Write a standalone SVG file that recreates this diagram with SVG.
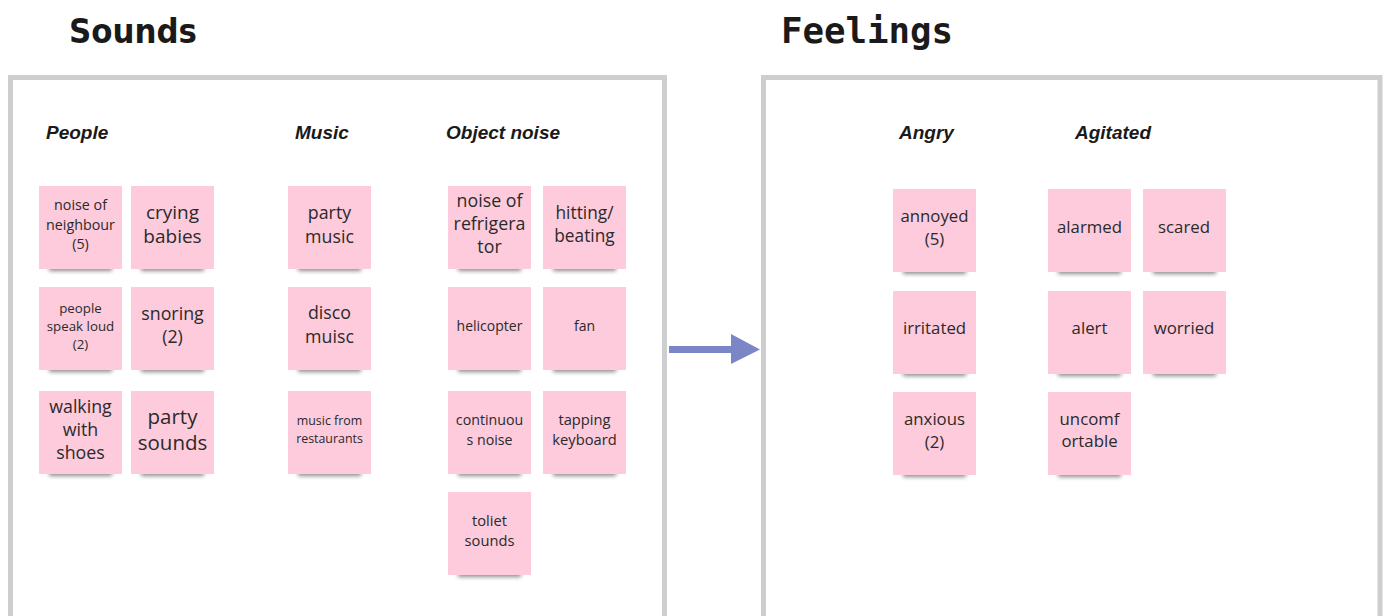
<svg xmlns="http://www.w3.org/2000/svg" width="1385" height="616" viewBox="0 0 1385 616">
<style>
.frame{fill:#fff;stroke:#cecece;stroke-width:5}
.sub{font-family:"Liberation Sans",Arial,sans-serif;font-weight:bold;font-style:italic;font-size:19px;fill:#1a1a1a}
.note{fill:#fdcbdc}
.shadow{fill:#000;opacity:0.45;filter:url(#blur)}
.nt{font-family:"Open Sans","Noto Sans",sans-serif;fill:#2a2a2a;text-anchor:middle}
</style>
<defs>
<filter id="blur" x="-20%" y="-100%" width="140%" height="300%"><feGaussianBlur stdDeviation="2"/></filter>
<symbol id="sticky" overflow="visible">
<rect class="shadow" x="10" y="78" width="63" height="7"/>
<rect class="note" x="0" y="0" width="83" height="83"/>
</symbol>
</defs>
<rect width="1385" height="616" fill="#fff"/>
<g id="frame-sounds">
<rect class="frame" x="10.5" y="77.5" width="654" height="560"/>
<text x="69" y="43" font-family="'DejaVu Sans', 'Liberation Sans', sans-serif" font-weight="bold" font-size="33" fill="#1a1a1a" textLength="128" lengthAdjust="spacingAndGlyphs">Sounds</text>
</g>
<g id="frame-feelings">
<rect class="frame" x="763.5" y="77.5" width="616.5" height="560"/>
<text x="781" y="43" font-family="'DejaVu Sans Mono', 'Liberation Mono', monospace" font-weight="bold" font-size="35" fill="#1a1a1a" textLength="172" lengthAdjust="spacingAndGlyphs">Feelings</text>
</g>
<g id="headings">
<text class="sub" x="46" y="139">People</text>
<text class="sub" x="295" y="139">Music</text>
<text class="sub" x="446" y="139">Object noise</text>
<text class="sub" x="899" y="139">Angry</text>
<text class="sub" x="1075" y="139">Agitated</text>
</g>
<g id="connectors">
<rect x="669" y="346" width="63" height="7" fill="#7a86c5"/>
<polygon points="731,334 760,349.5 731,364" fill="#7a86c5"/>
</g>
<g id="n1"><use href="#sticky" x="39" y="186"/><text class="nt" font-size="14.3"><tspan x="80.5" y="210">noise of</tspan><tspan x="80.5" y="230">neighbour</tspan><tspan x="80.5" y="249">(5)</tspan></text></g>
<g id="n2"><use href="#sticky" x="131" y="186"/><text class="nt" font-size="19"><tspan x="172.5" y="219">crying</tspan><tspan x="172.5" y="243">babies</tspan></text></g>
<g id="n3"><use href="#sticky" x="39" y="287"/><text class="nt" font-size="13.3"><tspan x="80.5" y="312.5">people</tspan><tspan x="80.5" y="330.5">speak loud</tspan><tspan x="80.5" y="348.5">(2)</tspan></text></g>
<g id="n4"><use href="#sticky" x="131" y="287"/><text class="nt" font-size="17.8"><tspan x="172.5" y="320">snoring</tspan><tspan x="172.5" y="343">(2)</tspan></text></g>
<g id="n5"><use href="#sticky" x="39" y="391"/><text class="nt" font-size="17.8"><tspan x="80.5" y="413">walking</tspan><tspan x="80.5" y="436">with</tspan><tspan x="80.5" y="459">shoes</tspan></text></g>
<g id="n6"><use href="#sticky" x="131" y="391"/><text class="nt" font-size="20.5"><tspan x="172.5" y="424">party</tspan><tspan x="172.5" y="450">sounds</tspan></text></g>
<g id="m1"><use href="#sticky" x="288" y="186"/><text class="nt" font-size="17.8"><tspan x="329.5" y="219">party</tspan><tspan x="329.5" y="243">music</tspan></text></g>
<g id="m2"><use href="#sticky" x="288" y="287"/><text class="nt" font-size="17.8"><tspan x="329.5" y="319">disco</tspan><tspan x="329.5" y="343">muisc</tspan></text></g>
<g id="m3"><use href="#sticky" x="288" y="391"/><text class="nt" font-size="12.4"><tspan x="329.5" y="425">music from</tspan><tspan x="329.5" y="443">restaurants</tspan></text></g>
<g id="o1"><use href="#sticky" x="448" y="186"/><text class="nt" font-size="17.8"><tspan x="489.5" y="207">noise of</tspan><tspan x="489.5" y="230">refrigera</tspan><tspan x="489.5" y="253">tor</tspan></text></g>
<g id="o2"><use href="#sticky" x="543" y="186"/><text class="nt" font-size="17.3"><tspan x="584.5" y="219">hitting/</tspan><tspan x="584.5" y="242">beating</tspan></text></g>
<g id="o3"><use href="#sticky" x="448" y="287"/><text class="nt" font-size="14" x="489.5" y="331">helicopter</text></g>
<g id="o4"><use href="#sticky" x="543" y="287"/><text class="nt" font-size="14" x="584.5" y="331">fan</text></g>
<g id="o5"><use href="#sticky" x="448" y="391"/><text class="nt" font-size="14.2"><tspan x="489.5" y="425">continuou</tspan><tspan x="489.5" y="445">s noise</tspan></text></g>
<g id="o6"><use href="#sticky" x="543" y="391"/><text class="nt" font-size="14.7"><tspan x="584.5" y="425">tapping</tspan><tspan x="584.5" y="445">keyboard</tspan></text></g>
<g id="o7"><use href="#sticky" x="448" y="492"/><text class="nt" font-size="14.7"><tspan x="489.5" y="526">toliet</tspan><tspan x="489.5" y="546">sounds</tspan></text></g>
<g id="a1"><use href="#sticky" x="893" y="189"/><text class="nt" font-size="16.8"><tspan x="934.5" y="222">annoyed</tspan><tspan x="934.5" y="245">(5)</tspan></text></g>
<g id="a2"><use href="#sticky" x="893" y="291"/><text class="nt" font-size="16.8" x="934.5" y="334">irritated</text></g>
<g id="a3"><use href="#sticky" x="893" y="392"/><text class="nt" font-size="16.8"><tspan x="934.5" y="425">anxious</tspan><tspan x="934.5" y="448">(2)</tspan></text></g>
<g id="g1"><use href="#sticky" x="1048" y="189"/><text class="nt" font-size="16.8" x="1089.5" y="233">alarmed</text></g>
<g id="g2"><use href="#sticky" x="1143" y="189"/><text class="nt" font-size="16.8" x="1184" y="233">scared</text></g>
<g id="g3"><use href="#sticky" x="1048" y="291"/><text class="nt" font-size="16.8" x="1089.5" y="334">alert</text></g>
<g id="g4"><use href="#sticky" x="1143" y="291"/><text class="nt" font-size="16.8" x="1184" y="334">worried</text></g>
<g id="g5"><use href="#sticky" x="1048" y="392"/><text class="nt" font-size="16.8"><tspan x="1089.5" y="425">uncomf</tspan><tspan x="1089.5" y="447">ortable</tspan></text></g>
</svg>
